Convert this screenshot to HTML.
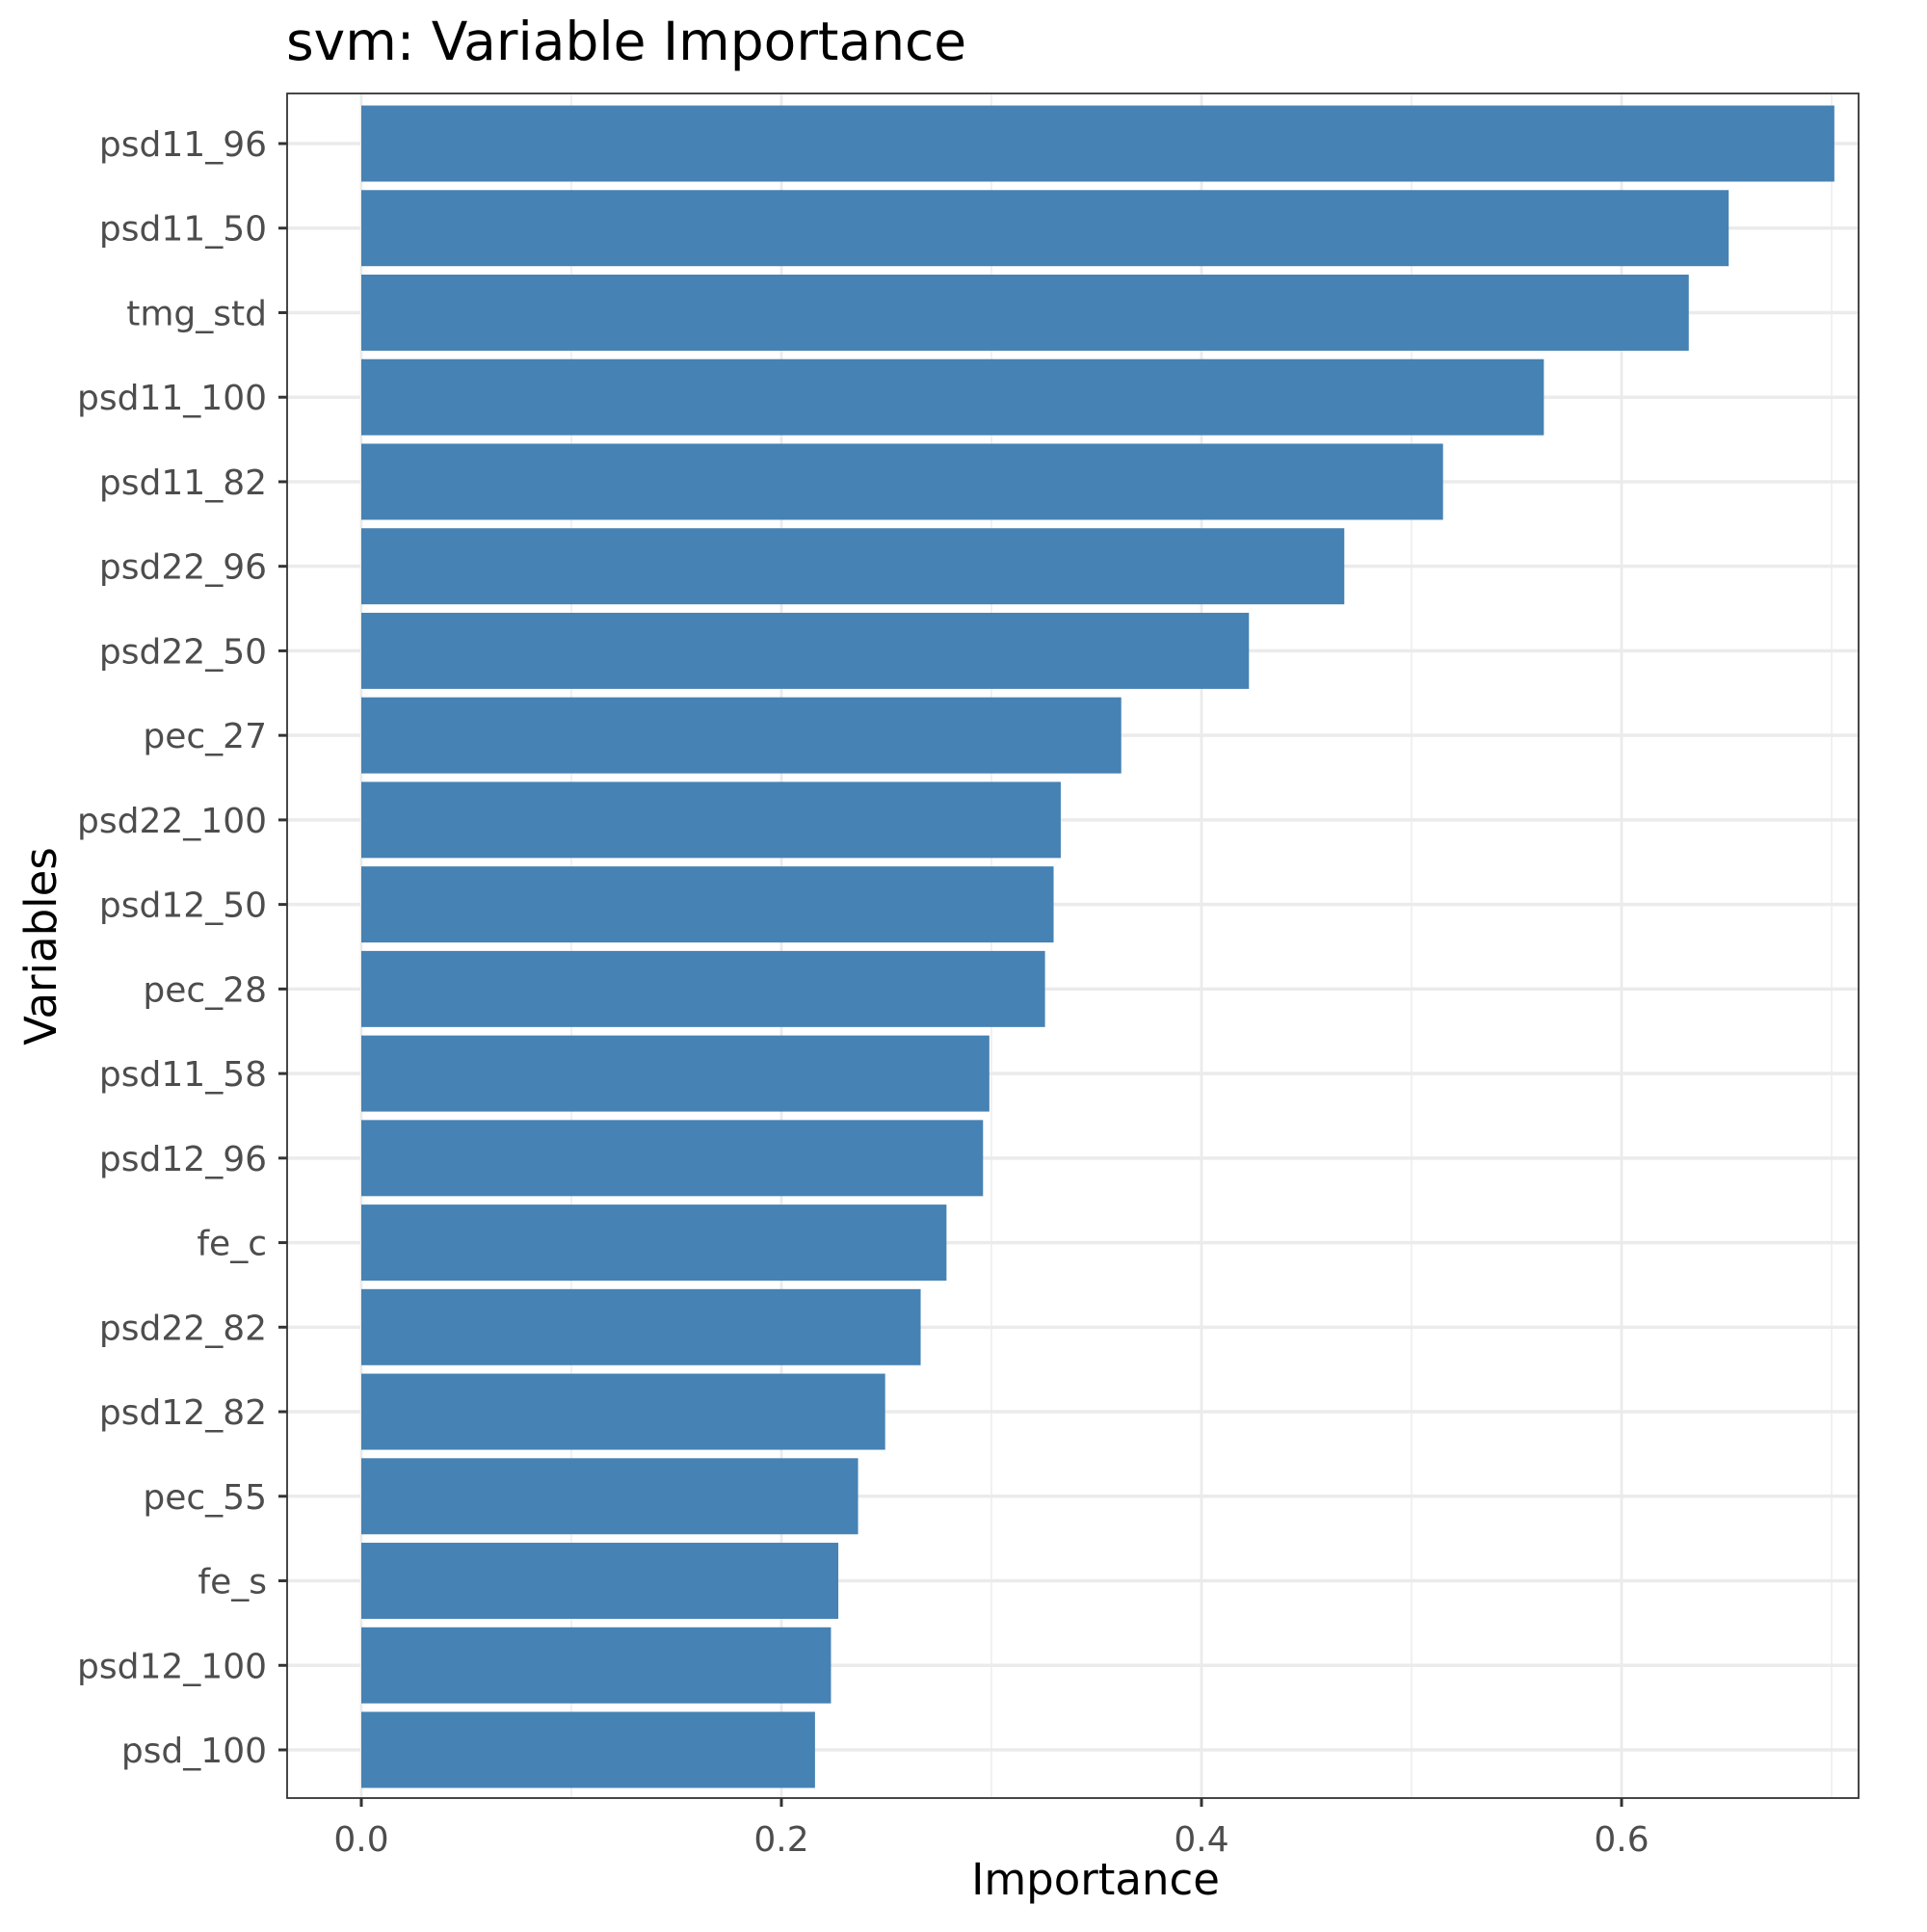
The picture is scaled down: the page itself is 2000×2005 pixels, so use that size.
<!DOCTYPE html>
<html><head><meta charset="utf-8"><style>
html,body{margin:0;padding:0;background:#fff;}
svg text{font-family:"DejaVu Sans","Liberation Sans",sans-serif;}
</style></head><body>
<svg id="chart" width="2000" height="2000" viewBox="0 0 2000 2000" xmlns="http://www.w3.org/2000/svg">
<rect width="2000" height="2000" fill="#fff"/>
<text x="297" y="62" font-size="55" fill="#000">svm: Variable Importance</text>
<g id="grid"></g><g id="bars"></g><g id="axes"></g>
<text x="1137" y="1966" font-size="45" text-anchor="middle" fill="#000">Importance</text>
<text transform="translate(58,982) rotate(-90)" font-size="45" text-anchor="middle" fill="#000">Variables</text>
</svg>
<script>
const categories = ["psd11_96","psd11_50","tmg_std","psd11_100","psd11_82","psd22_96","psd22_50","pec_27","psd22_100","psd12_50","pec_28","psd11_58","psd12_96","fe_c","psd22_82","psd12_82","pec_55","fe_s","psd12_100","psd_100"];
const values = [0.7013,0.651,0.632,0.563,0.515,0.468,0.4226,0.3618,0.333,0.3296,0.3255,0.299,0.296,0.2786,0.2663,0.2494,0.2365,0.2271,0.2236,0.216];
const majorTicks = [0,0.2,0.4,0.6];
const tickLabels = ["0.0","0.2","0.4","0.6"];
const minorTicks = [0.1,0.3,0.5,0.7];

const NS="http://www.w3.org/2000/svg";
const L=298,R=1929,T=97,B=1866;
const x0=375, k=2180;
function xs(v){return x0+v*k;}
const firstY=149, lastY=1816, step=(lastY-firstY)/(categories.length-1);
function ys(i){return firstY+i*step;}
function mk(tag,attrs,parent){const e=document.createElementNS(NS,tag);for(const a in attrs)e.setAttribute(a,attrs[a]);parent.appendChild(e);return e;}
const grid=document.getElementById('grid'),bars=document.getElementById('bars'),axes=document.getElementById('axes');
minorTicks.forEach(v=>{const e=mk('line',{x1:xs(v),x2:xs(v),y1:T,y2:B,stroke:'#ebebeb','stroke-width':1.4},grid);

});
majorTicks.forEach(v=>{const e=mk('line',{x1:xs(v),x2:xs(v),y1:T,y2:B,stroke:'#ebebeb','stroke-width':2.8},grid);

});
categories.forEach((c,i)=>{const e=mk('line',{x1:L,x2:R,y1:ys(i),y2:ys(i),stroke:'#ebebeb','stroke-width':3.5},grid);

});
const bh=step*0.9;
categories.forEach((c,i)=>{const e=mk('rect',{x:xs(0),y:ys(i)-bh/2,width:xs(values[i])-xs(0),height:bh,fill:'#4682b4'},bars);

});
const fr=mk('rect',{x:L,y:T,width:R-L,height:B-T,fill:'none',stroke:'#333','stroke-width':1.8},axes);


categories.forEach((c,i)=>{const t=mk('line',{x1:L-9,x2:L,y1:ys(i),y2:ys(i),stroke:'#333','stroke-width':3},axes);


const l=mk('text',{x:277,y:ys(i)+13,'font-size':36,'text-anchor':'end',fill:'#4d4d4d'},axes);l.textContent=c;

});
majorTicks.forEach((v,i)=>{const t=mk('line',{x1:xs(v),x2:xs(v),y1:B,y2:B+9,stroke:'#333','stroke-width':3},axes);


const l=mk('text',{x:xs(v),y:B+55,'font-size':36,'text-anchor':'middle',fill:'#4d4d4d'},axes);l.textContent=tickLabels[i];

});
</script>
</body></html>
